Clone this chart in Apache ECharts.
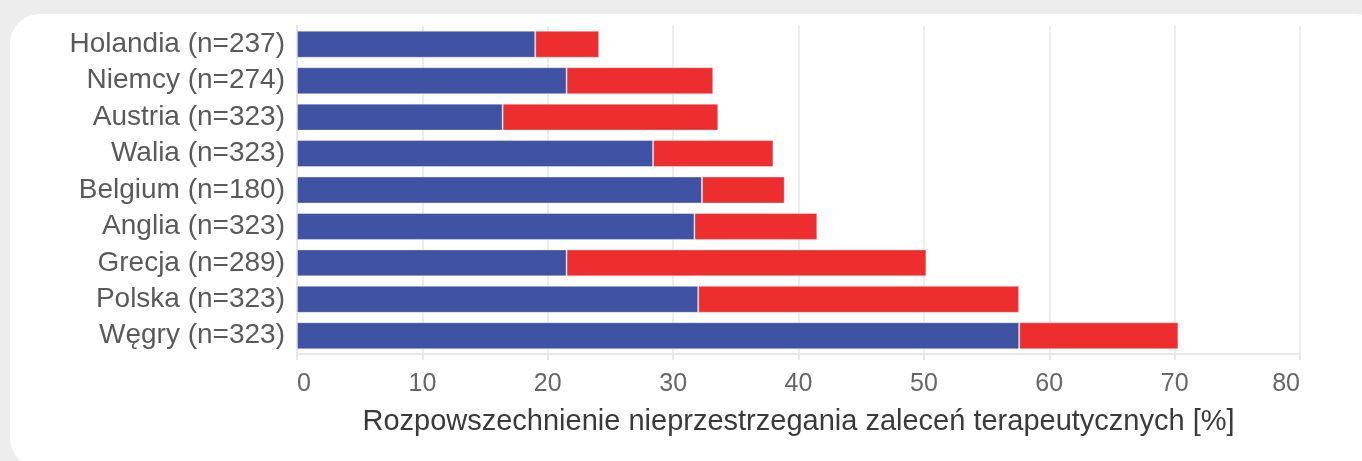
<!DOCTYPE html>
<html>
<head>
<meta charset="utf-8">
<script src="https://cdn.jsdelivr.net/npm/echarts@6/dist/echarts.min.js"></script>
<style>
  html, body { margin: 0; padding: 0; width: 1362px; height: 461px; background: #ECEDEC; overflow: hidden; }
  #card { position: absolute; left: 10px; top: 14px; width: 1375px; height: 454px; background: #ffffff; border-radius: 30px; }
  #chart { position: absolute; left: 0; top: 0; width: 1362px; height: 461px; }
</style>
</head>
<body>
<div id="card"></div>
<div id="chart"></div>
<script>
const categories = ['Holandia (n=237)', 'Niemcy (n=274)', 'Austria (n=323)', 'Walia (n=323)', 'Belgium (n=180)', 'Anglia (n=323)', 'Grecja (n=289)', 'Polska (n=323)', 'Węgry (n=323)'];
const blueValues = [19.0, 21.5, 16.4, 28.4, 32.3, 31.7, 21.5, 32.0, 57.6];
const redValues = [5.1, 11.7, 17.2, 9.6, 6.6, 9.8, 28.7, 25.6, 12.7];
const xTicks = { min: 0, max: 80, interval: 10 };
const axisTitle = 'Rozpowszechnienie nieprzestrzegania zaleceń terapeutycznych [%]';

const FONT = "'Liberation Sans', Arial, Helvetica, sans-serif";
const chart = echarts.init(document.getElementById('chart'), null, { renderer: 'canvas' });
chart.setOption({
  backgroundColor: 'transparent',
  animation: false,
  grid: { left: 297, right: 62, top: 26, bottom: 107, containLabel: false },
  xAxis: {
    type: 'value',
    min: xTicks.min, max: xTicks.max, interval: xTicks.interval,
    name: axisTitle,
    nameLocation: 'middle',
    nameGap: 53,
    nameTextStyle: { fontFamily: FONT, fontSize: 29, color: '#3a3a3a' },
    axisLine: { show: true, lineStyle: { color: '#e6e6e6', width: 2 } },
    axisTick: { show: true, length: 6, lineStyle: { color: '#e6e6e6', width: 2 } },
    axisLabel: { margin: 18, fontFamily: FONT, fontSize: 25, color: '#666666', alignMinLabel: 'left', alignMaxLabel: 'right' },
    splitLine: { show: true, lineStyle: { color: '#ececec', width: 2 } }
  },
  yAxis: {
    type: 'category',
    data: categories,
    inverse: true,
    axisLine: { show: true, lineStyle: { color: '#e6e6e6', width: 2 } },
    axisTick: { show: false },
    axisLabel: { margin: 12, fontFamily: FONT, fontSize: 28, color: '#5a5a5a' },
    splitLine: { show: false }
  },
  series: [
    {
      type: 'bar', stack: 'total', data: blueValues, barCategoryGap: '26%',
      itemStyle: { color: '#3F52A3', borderColor: 'rgba(255,255,255,0.35)', borderWidth: 1 }
    },
    {
      type: 'bar', stack: 'total', data: redValues, barCategoryGap: '26%',
      itemStyle: { color: '#EE2E2E', borderColor: 'rgba(255,255,255,0.35)', borderWidth: 1 }
    }
  ]
});
</script>
</body>
</html>
